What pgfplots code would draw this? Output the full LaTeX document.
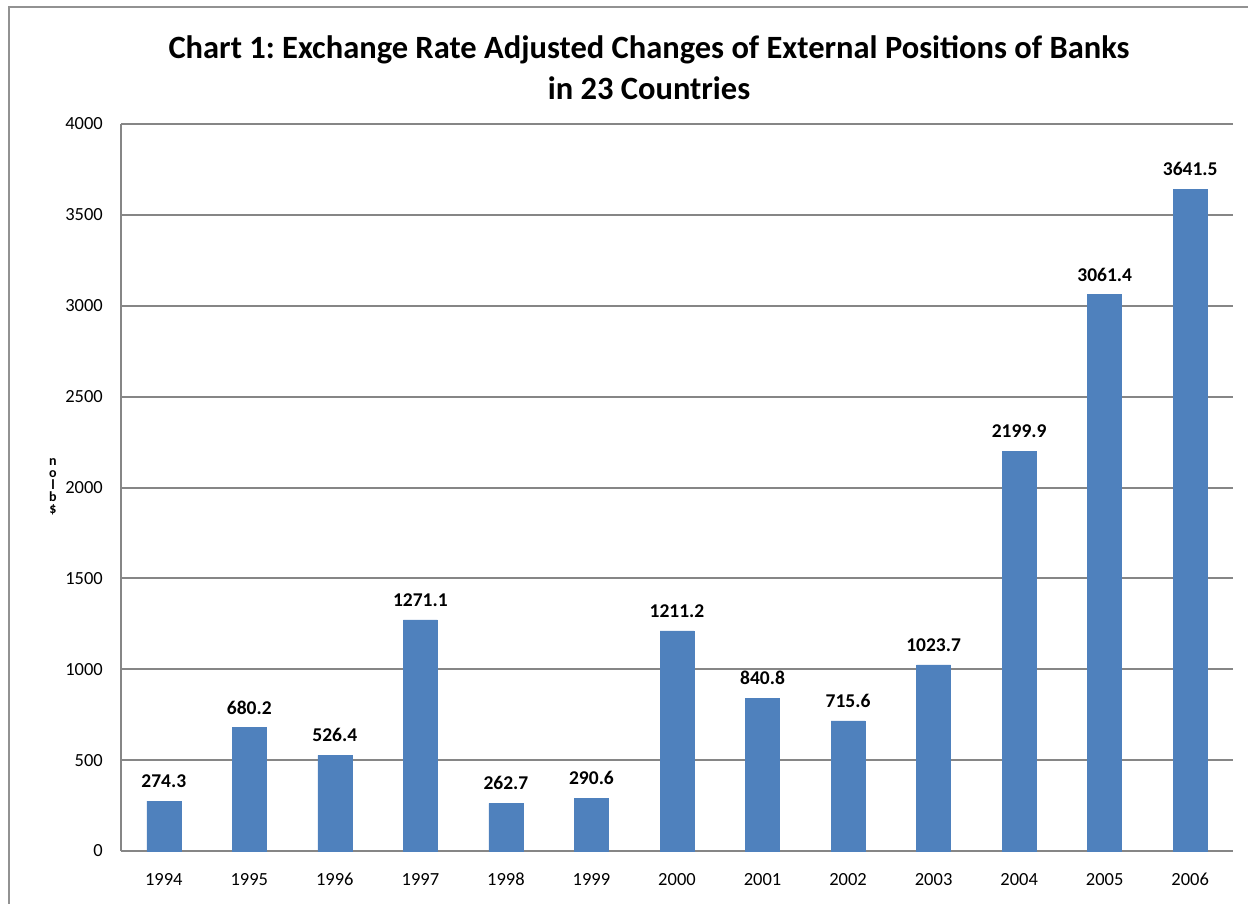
\documentclass[border=0pt]{standalone}
\usepackage{fontspec}
\setmainfont{Carlito}
\usepackage{pgfplots}
\pgfplotsset{compat=1.18}
\definecolor{barblue}{HTML}{4F81BD}
\definecolor{gridgray}{HTML}{868686}
\frenchspacing
\begin{document}
\begin{tikzpicture}[x=1pt,y=1pt]
\useasboundingbox (0,0) rectangle (1248,-904);
\draw[gridgray!90, line width=2pt] (8.5,-904) -- (8.5,-7.5) -- (1248,-7.5);
\node[align=center, font=\fontsize{32.5}{41}\selectfont\bfseries] at (649,-68) {Chart 1: Exchange Rate Adjusted Changes of External Positions of Banks\\in 23 Countries};
\node[align=center, font=\fontsize{14}{12}\selectfont\bfseries] at (53,-487) {n\\o\\l\\b\\\$};
\begin{axis}[
  at={(121pt,-851pt)}, anchor=south west,
  scale only axis, width=1112pt, height=727pt,
  ymin=0, ymax=4000, xmin=-0.5, xmax=12.5,
  ybar, bar width=34pt,
  xtick={0,...,12},
  xticklabels={1994,1995,1996,1997,1998,1999,2000,2001,2002,2003,2004,2005,2006},
  ytick={0,500,...,4000},
  ymajorgrids, grid style={gridgray, line width=2pt},
  axis x line*=bottom, axis y line*=left,
  axis line style={gridgray, line width=2pt, -},
  major tick length=0pt,
  /pgf/number format/assume math mode=true,
  /pgf/number format/1000 sep={},
  tick label style={font=\fontsize{18.5}{21}\selectfont},
  yticklabel style={anchor=east, inner sep=0pt, xshift=-18pt},
  xticklabel style={anchor=north, inner sep=0pt, yshift=-22pt},
  point meta=explicit symbolic,
  nodes near coords,
  nodes near coords style={font=\fontsize{19.5}{22}\selectfont\bfseries, anchor=south, inner sep=0pt, yshift=13pt, text=black},
]
\addplot[fill=barblue, draw=barblue] coordinates {
(0,274.3)[274.3] (1,680.2)[680.2] (2,526.4)[526.4] (3,1271.1)[1271.1]
(4,262.7)[262.7] (5,290.6)[290.6] (6,1211.2)[1211.2] (7,840.8)[840.8]
(8,715.6)[715.6] (9,1023.7)[1023.7] (10,2199.9)[2199.9] (11,3061.4)[3061.4]
(12,3641.5)[3641.5]};
\end{axis}
\end{tikzpicture}
\end{document}
